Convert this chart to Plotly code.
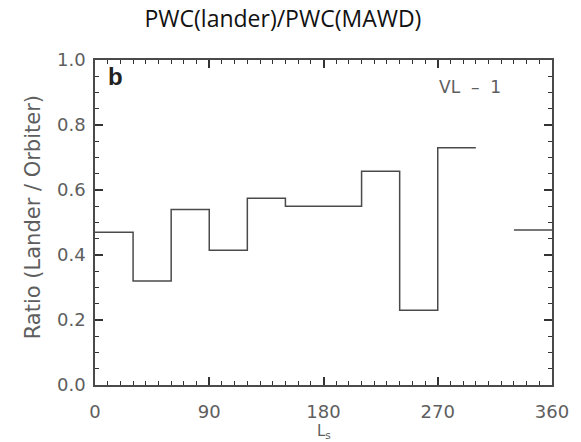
import plotly.graph_objects as go

# Lander/orbiter water-column ratio in 30-degree Ls bins (VL-1); None = no data
bin_start = [0, 30, 60, 90, 120, 150, 180, 210, 240, 270, 300, 330]
bin_width = 30
ratio = [0.47, 0.32, 0.54, 0.415, 0.575, 0.55, 0.55, 0.658, 0.23, 0.73, None, 0.477]

# Build a histogram-style step outline; gaps break the line
xs, ys = [], []
for s, v in zip(bin_start, ratio):
    if v is None:
        xs.append(None)
        ys.append(None)
        continue
    xs += [s, s + bin_width]
    ys += [v, v]

ink = "#4a4a4a"
text_col = "#5e5e5e"
face = "DejaVu Sans, Liberation Sans, sans-serif"
tick_font = dict(family=face, size=18, color=text_col)

fig = go.Figure(go.Scatter(
    x=xs, y=ys, mode="lines", connectgaps=False,
    line=dict(color=ink, width=1.5), hoverinfo="skip", showlegend=False,
))

fig.update_xaxes(
    range=[0, 360], tickmode="array", tickvals=[0, 90, 180, 270, 360],
    ticks="inside", ticklen=8, tickwidth=2, tickcolor="#333333", mirror="allticks",
    showline=True, linecolor=ink, linewidth=1.6, showgrid=False, zeroline=False,
    tickfont=tick_font, ticklabelstandoff=10,
    minor=dict(tickmode="linear", tick0=0, dtick=10, ticks="inside", ticklen=4,
               tickwidth=1.2, tickcolor="#333333", showgrid=False),
)
fig.update_yaxes(
    range=[0, 1.0], tickmode="array", tickvals=[0, 0.2, 0.4, 0.6, 0.8, 1.0],
    ticktext=["0.0", "0.2", "0.4", "0.6", "0.8", "1.0"],
    ticks="inside", ticklen=8, tickwidth=2, tickcolor="#333333", mirror="allticks",
    showline=True, linecolor=ink, linewidth=1.6, showgrid=False, zeroline=False,
    tickfont=tick_font, ticklabelstandoff=4,
    minor=dict(tickmode="linear", tick0=0, dtick=0.05, ticks="inside", ticklen=4,
               tickwidth=1.2, tickcolor="#333333", showgrid=False),
)

fig.update_layout(
    width=581, height=442,
    margin=dict(l=95, r=27, t=60, b=57),
    paper_bgcolor="white", plot_bgcolor="white",
    title=dict(
        text="PWC(lander)/PWC(MAWD)", x=0.487, xref="container", xanchor="center",
        y=0.957, yref="container", yanchor="middle",
        font=dict(family="Open Sans, sans-serif", size=23, color="#111111"),
    ),
    annotations=[
        dict(text="Ratio (Lander / Orbiter)", xref="paper", yref="paper",
             x=-0.135, y=0.517, xanchor="center", yanchor="middle", textangle=-90,
             showarrow=False, font=dict(family=face, size=21, color=text_col)),
        dict(text="L<sub>s</sub>", xref="paper", yref="paper",
             x=0.501, y=-0.143, xanchor="center", yanchor="middle",
             showarrow=False, font=dict(family=face, size=15, color=text_col)),
        dict(text="<b>b</b>", xref="paper", yref="paper",
             x=0.044, y=0.948, xanchor="center", yanchor="middle",
             showarrow=False,
             font=dict(family="Liberation Sans, Arial, sans-serif", size=24, color="#222222")),
        dict(text="VL  –  1", xref="paper", yref="paper",
             x=0.821, y=0.917, xanchor="center", yanchor="middle",
             showarrow=False, font=dict(family=face, size=17, color=text_col)),
    ],
)

fig.write_html("out.html")
